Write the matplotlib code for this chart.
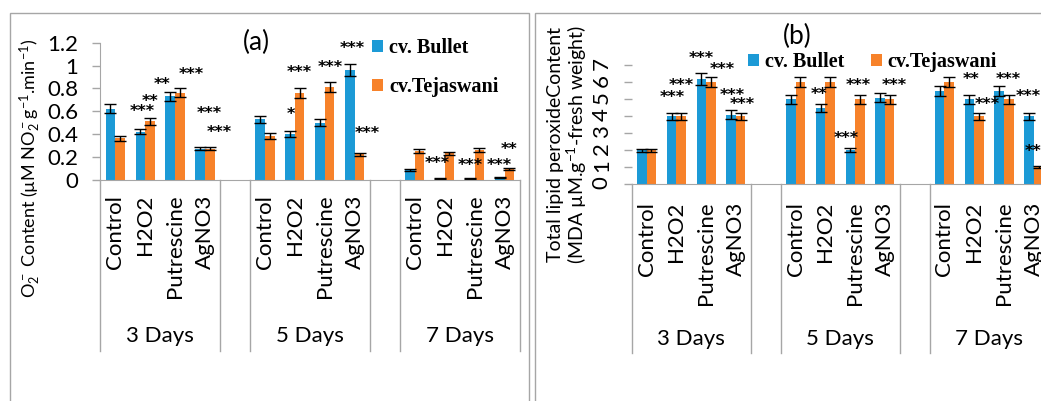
import matplotlib
matplotlib.use('Agg')
import matplotlib.pyplot as plt
from matplotlib.patches import Rectangle
import numpy as np

plt.rcParams['font.family'] = ['Lato', 'DejaVu Sans']
plt.rcParams['mathtext.default'] = 'regular'

days = ['3 Days', '5 Days', '7 Days']
treatments = ['Control', 'H2O2', 'Putrescine', 'AgNO3']
cultivars = ['cv. Bullet', 'cv.Tejaswani']

# superoxide content, ordered day by day then treatment
o2_bullet = [0.62, 0.42, 0.73, 0.27, 0.53, 0.40, 0.50, 0.96, 0.08, 0.01, 0.01, 0.02]
o2_bullet_err = [0.04, 0.025, 0.04, 0.015, 0.03, 0.025, 0.03, 0.055, 0.008, 0.005, 0.005, 0.005]
o2_tej = [0.36, 0.51, 0.76, 0.27, 0.38, 0.76, 0.81, 0.22, 0.25, 0.23, 0.26, 0.09]
o2_tej_err = [0.025, 0.03, 0.04, 0.015, 0.025, 0.045, 0.045, 0.015, 0.015, 0.015, 0.015, 0.008]

# lipid peroxide (MDA) content
mda_bullet = [2.0, 4.0, 6.2, 4.1, 5.0, 4.5, 2.0, 5.1, 5.5, 5.0, 5.5, 4.0]
mda_bullet_err = [0.1, 0.2, 0.35, 0.25, 0.25, 0.22, 0.12, 0.25, 0.3, 0.25, 0.3, 0.2]
mda_tej = [2.0, 4.0, 6.0, 4.0, 6.0, 6.0, 5.0, 5.0, 6.0, 4.0, 5.0, 1.0]
mda_tej_err = [0.1, 0.2, 0.3, 0.2, 0.3, 0.3, 0.25, 0.25, 0.3, 0.2, 0.25, 0.05]

# significance labels: (category slot, label height, stars)
o2_stars = [(0.91, 0.635, '***'), (1.15, 0.726, '**'), (1.55, 0.87, '**'),
            (2.54, 0.96, '***'), (3.13, 0.62, '***'), (3.47, 0.45, '***'),
            (5.86, 0.61, '*'), (6.15, 0.975, '***'), (7.17, 1.02, '***'),
            (7.90, 1.185, '***'), (8.41, 0.44, '***'),
            (10.76, 0.176, '***'), (11.87, 0.16, '***'), (12.83, 0.16, '***'),
            (13.16, 0.30, '**')]
mda_stars = [(0.85, 5.39, '***'), (1.15, 6.08, '***'), (1.85, 7.67, '***'),
             (2.53, 7.02, '***'), (2.86, 5.51, '***'), (3.20, 4.96, '***'),
             (5.79, 5.55, '**'), (6.71, 2.94, '***'), (7.12, 6.08, '***'),
             (8.30, 6.08, '***'), (10.88, 6.43, '**'), (11.43, 4.96, '***'),
             (12.14, 6.43, '***'), (12.83, 5.41, '***'), (13.10, 2.18, '***')]

W, H = 1041, 401
blue = '#1C9AD6'
orange = '#F7822A'
grey = '#A6A6A6'
w = 0.32

# one empty slot between the day groups
slots = np.array([d * 5 + t for d in range(len(days)) for t in range(len(treatments))])

fig = plt.figure(figsize=(W / 100, H / 100), dpi=100)


def fx(px):
    return px / W


def fy(py):
    return 1 - py / H


def draw_panel(ax, bullet, bullet_err, tej, tej_err, stars, ymax, yticks, sep_px, day_px, xpad):
    ekw = dict(ecolor='black', elinewidth=1, capthick=1)
    ax.bar(slots - w / 2, bullet, w, color=blue, yerr=bullet_err, capsize=4,
           error_kw=ekw, label=cultivars[0])
    ax.bar(slots + w / 2, tej, w, color=orange, yerr=tej_err, capsize=4,
           error_kw=ekw, label=cultivars[1])
    ax.set_xlim(-0.5, 13.5)
    ax.set_ylim(0, ymax)
    ax.set_yticks(yticks)
    ax.set_yticklabels(['%g' % round(v, 1) for v in yticks])
    ax.set_xticks(slots)
    ax.set_xticklabels(treatments * len(days))
    ax.tick_params(axis='x', length=0, pad=xpad, labelsize=16, labelrotation=90)
    ax.tick_params(axis='y', length=5.8, width=1, color=grey, pad=10, labelsize=16)
    for s in ['top', 'right']:
        ax.spines[s].set_visible(False)
    for s in ['left', 'bottom']:
        ax.spines[s].set_color(grey)
    ax_h = ax.get_position().height * H
    trans = ax.get_xaxis_transform()
    for x in [-0.5, 3.5, 4.5, 8.5, 9.5, 13.5]:
        ax.plot([x, x], [0, -sep_px / ax_h], transform=trans, clip_on=False,
                color=grey, lw=1)
    for d, name in enumerate(days):
        ax.text(d * 5 + 1.5, -day_px / ax_h, name, transform=trans,
                ha='center', va='center', fontsize=16)
    for x, y, txt in stars:
        ax.annotate(txt, xy=(x, y), xytext=(0, -6.5), textcoords='offset points',
                    ha='center', va='baseline', fontsize=11.5, fontweight='bold',
                    family='DejaVu Sans', annotation_clip=False)


ax1 = fig.add_axes([fx(100.2), fy(179.5), 419.3 / W, 136.8 / H])
draw_panel(ax1, o2_bullet, o2_bullet_err, o2_tej, o2_tej_err, o2_stars,
           1.2, np.arange(0, 1.21, 0.2), 171, 156, 11)

ax2 = fig.add_axes([fx(631.7), fy(184.3), 417 / W, 119 / H])
draw_panel(ax2, mda_bullet, mda_bullet_err, mda_tej, mda_tej_err, mda_stars,
           7, np.arange(0, 8, 1), 169, 155, 12.5)
ax2.spines['left'].set_visible(False)
ax2.tick_params(axis='y', labelrotation=90, pad=8.5)

legend_font = dict(family='Liberation Serif', weight='bold', size=14.5)
ax1.legend(loc='upper left', bbox_to_anchor=(fx(372), fy(38)), bbox_transform=fig.transFigure,
           frameon=False, prop=legend_font, handlelength=0.55, handleheight=0.55,
           handletextpad=0.3, labelspacing=0.95, borderpad=0, borderaxespad=0)
ax2.legend(loc='upper left', bbox_to_anchor=(fx(748), fy(52)), bbox_transform=fig.transFigure,
           frameon=False, prop=legend_font, ncol=2, handlelength=0.55, handleheight=0.55,
           handletextpad=0.3, columnspacing=1.3, borderpad=0, borderaxespad=0)

fig.text(fx(256), fy(42), '(a)', ha='center', va='center', fontsize=19)
fig.text(fx(797.5), fy(36), '(b)', ha='center', va='center', fontsize=19)

fig.text(fx(30), fy(168), 'O$_2^-$ Content (µM NO$_2^-$g$^{-1}$.min$^{-1}$)',
         rotation=90, ha='center', va='center', fontsize=13)
fig.text(fx(568), fy(145), 'Total lipid peroxideContent\n(MDA µM.g$^{-1}$-fresh weight)',
         rotation=90, ha='center', va='center', multialignment='center',
         fontsize=14, linespacing=1.05)

# panel frames, both run off the bottom edge
fig.add_artist(Rectangle((fx(10), -0.1), fx(529 - 10), fy(13) + 0.1,
                         transform=fig.transFigure, fill=False, ec=grey, lw=1))
fig.add_artist(Rectangle((fx(535), -0.1), 0.6, fy(13) + 0.1,
                         transform=fig.transFigure, fill=False, ec=grey, lw=1))

fig.savefig('out.png', dpi=100)
